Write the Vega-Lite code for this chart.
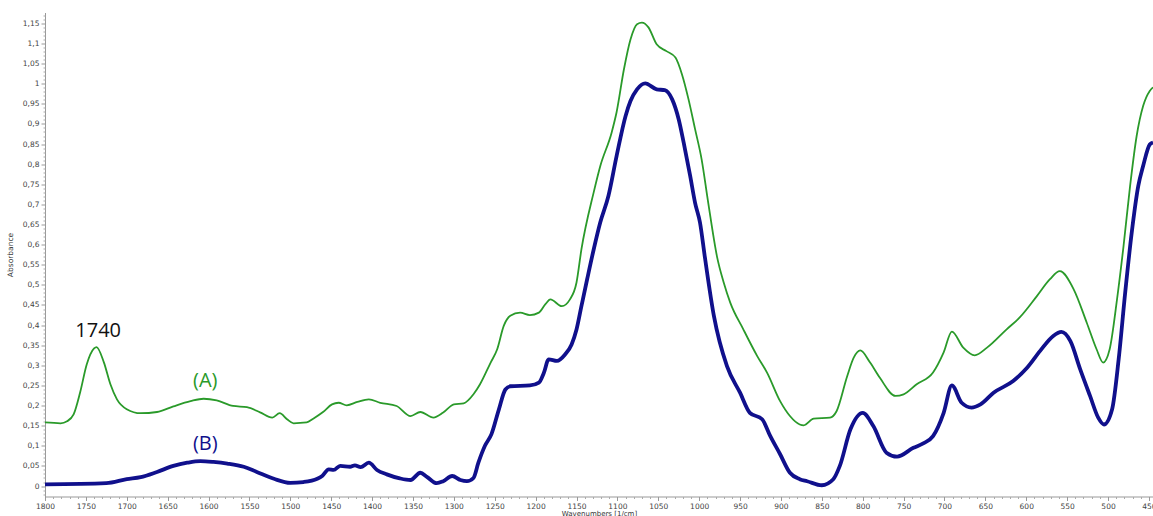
{
  "$schema": "https://vega.github.io/schema/vega-lite/v6.json",
  "width": 1108,
  "height": 484,
  "autosize": {"type": "none"},
  "padding": {"left": 45, "top": 12.5, "right": 0, "bottom": 19.5},
  "background": "white",
  "config": {"view": {"stroke": null}},
  "datasets": {
    "spectra": [
      {"series":"A","wavenumber":1800,"absorbance":0.158},{"series":"A","wavenumber":1781,"absorbance":0.156},{"series":"A","wavenumber":1773,"absorbance":0.161},{"series":"A","wavenumber":1765,"absorbance":0.178},{"series":"A","wavenumber":1757,"absorbance":0.233},{"series":"A","wavenumber":1749,"absorbance":0.302},{"series":"A","wavenumber":1740,"absorbance":0.342},{"series":"A","wavenumber":1737,"absorbance":0.3455},{"series":"A","wavenumber":1728,"absorbance":0.3075},{"series":"A","wavenumber":1720,"absorbance":0.253},{"series":"A","wavenumber":1712,"absorbance":0.2155},{"series":"A","wavenumber":1700,"absorbance":0.191},{"series":"A","wavenumber":1683,"absorbance":0.181},{"series":"A","wavenumber":1663,"absorbance":0.184},{"series":"A","wavenumber":1643,"absorbance":0.198},{"series":"A","wavenumber":1622,"absorbance":0.211},{"series":"A","wavenumber":1606,"absorbance":0.217},{"series":"A","wavenumber":1590,"absorbance":0.213},{"series":"A","wavenumber":1570,"absorbance":0.199},{"series":"A","wavenumber":1553,"absorbance":0.196},{"series":"A","wavenumber":1537,"absorbance":0.183},{"series":"A","wavenumber":1522,"absorbance":0.170},{"series":"A","wavenumber":1513,"absorbance":0.181},{"series":"A","wavenumber":1504,"absorbance":0.166},{"series":"A","wavenumber":1496,"absorbance":0.156},{"series":"A","wavenumber":1480,"absorbance":0.158},{"series":"A","wavenumber":1472,"absorbance":0.1675},{"series":"A","wavenumber":1460,"absorbance":0.184},{"series":"A","wavenumber":1449,"absorbance":0.203},{"series":"A","wavenumber":1441,"absorbance":0.207},{"series":"A","wavenumber":1431,"absorbance":0.2006},{"series":"A","wavenumber":1418,"absorbance":0.209},{"series":"A","wavenumber":1404,"absorbance":0.2155},{"series":"A","wavenumber":1390,"absorbance":0.207},{"series":"A","wavenumber":1370,"absorbance":0.199},{"series":"A","wavenumber":1353,"absorbance":0.174},{"series":"A","wavenumber":1341,"absorbance":0.184},{"series":"A","wavenumber":1325,"absorbance":0.170},{"series":"A","wavenumber":1313,"absorbance":0.1825},{"series":"A","wavenumber":1300,"absorbance":0.203},{"series":"A","wavenumber":1288,"absorbance":0.2055},{"series":"A","wavenumber":1276,"absorbance":0.228},{"series":"A","wavenumber":1268,"absorbance":0.253},{"series":"A","wavenumber":1255,"absorbance":0.307},{"series":"A","wavenumber":1247,"absorbance":0.340},{"series":"A","wavenumber":1239,"absorbance":0.398},{"series":"A","wavenumber":1231,"absorbance":0.423},{"series":"A","wavenumber":1219,"absorbance":0.431},{"series":"A","wavenumber":1207,"absorbance":0.425},{"series":"A","wavenumber":1196,"absorbance":0.431},{"series":"A","wavenumber":1188,"absorbance":0.452},{"series":"A","wavenumber":1182,"absorbance":0.464},{"series":"A","wavenumber":1168,"absorbance":0.447},{"series":"A","wavenumber":1158,"absorbance":0.464},{"series":"A","wavenumber":1150,"absorbance":0.506},{"series":"A","wavenumber":1144,"absorbance":0.588},{"series":"A","wavenumber":1129,"absorbance":0.730},{"series":"A","wavenumber":1121,"absorbance":0.795},{"series":"A","wavenumber":1107,"absorbance":0.879},{"series":"A","wavenumber":1101,"absorbance":0.929},{"series":"A","wavenumber":1092,"absorbance":1.036},{"series":"A","wavenumber":1084,"absorbance":1.110},{"series":"A","wavenumber":1076,"absorbance":1.148},{"series":"A","wavenumber":1070,"absorbance":1.152},{"series":"A","wavenumber":1062,"absorbance":1.140},{"series":"A","wavenumber":1052,"absorbance":1.098},{"series":"A","wavenumber":1040,"absorbance":1.081},{"series":"A","wavenumber":1029,"absorbance":1.065},{"series":"A","wavenumber":1021,"absorbance":1.023},{"series":"A","wavenumber":1013,"absorbance":0.961},{"series":"A","wavenumber":1005,"absorbance":0.887},{"series":"A","wavenumber":997,"absorbance":0.812},{"series":"A","wavenumber":989,"absorbance":0.705},{"series":"A","wavenumber":978,"absorbance":0.5685},{"series":"A","wavenumber":970,"absorbance":0.506},{"series":"A","wavenumber":962,"absorbance":0.456},{"series":"A","wavenumber":946,"absorbance":0.3895},{"series":"A","wavenumber":929,"absorbance":0.323},{"series":"A","wavenumber":917,"absorbance":0.282},{"series":"A","wavenumber":901,"absorbance":0.211},{"series":"A","wavenumber":889,"absorbance":0.174},{"series":"A","wavenumber":877,"absorbance":0.153},{"series":"A","wavenumber":872,"absorbance":0.151},{"series":"A","wavenumber":860,"absorbance":0.1675},{"series":"A","wavenumber":840,"absorbance":0.170},{"series":"A","wavenumber":832,"absorbance":0.186},{"series":"A","wavenumber":819,"absorbance":0.273},{"series":"A","wavenumber":811,"absorbance":0.319},{"series":"A","wavenumber":803,"absorbance":0.337},{"series":"A","wavenumber":791,"absorbance":0.307},{"series":"A","wavenumber":779,"absorbance":0.269},{"series":"A","wavenumber":760,"absorbance":0.224},{"series":"A","wavenumber":750,"absorbance":0.228},{"series":"A","wavenumber":734,"absorbance":0.253},{"series":"A","wavenumber":714,"absorbance":0.282},{"series":"A","wavenumber":701,"absorbance":0.332},{"series":"A","wavenumber":691,"absorbance":0.384},{"series":"A","wavenumber":677,"absorbance":0.344},{"series":"A","wavenumber":663,"absorbance":0.325},{"series":"A","wavenumber":648,"absorbance":0.344},{"series":"A","wavenumber":624,"absorbance":0.3895},{"series":"A","wavenumber":608,"absorbance":0.419},{"series":"A","wavenumber":587,"absorbance":0.472},{"series":"A","wavenumber":571,"absorbance":0.514},{"series":"A","wavenumber":559,"absorbance":0.534},{"series":"A","wavenumber":542,"absorbance":0.489},{"series":"A","wavenumber":526,"absorbance":0.406},{"series":"A","wavenumber":514,"absorbance":0.340},{"series":"A","wavenumber":506,"absorbance":0.307},{"series":"A","wavenumber":498,"absorbance":0.340},{"series":"A","wavenumber":489,"absorbance":0.464},{"series":"A","wavenumber":481,"absorbance":0.597},{"series":"A","wavenumber":473,"absorbance":0.746},{"series":"A","wavenumber":465,"absorbance":0.870},{"series":"A","wavenumber":457,"absorbance":0.945},{"series":"A","wavenumber":449,"absorbance":0.982},{"series":"A","wavenumber":445,"absorbance":0.991},
      {"series":"B","wavenumber":1800,"absorbance":0.004},{"series":"B","wavenumber":1725,"absorbance":0.007},{"series":"B","wavenumber":1700,"absorbance":0.017},{"series":"B","wavenumber":1683,"absorbance":0.022},{"series":"B","wavenumber":1663,"absorbance":0.035},{"series":"B","wavenumber":1643,"absorbance":0.050},{"series":"B","wavenumber":1626,"absorbance":0.058},{"series":"B","wavenumber":1610,"absorbance":0.062},{"series":"B","wavenumber":1594,"absorbance":0.060},{"series":"B","wavenumber":1577,"absorbance":0.056},{"series":"B","wavenumber":1557,"absorbance":0.048},{"series":"B","wavenumber":1541,"absorbance":0.035},{"series":"B","wavenumber":1520,"absorbance":0.018},{"series":"B","wavenumber":1500,"absorbance":0.008},{"series":"B","wavenumber":1484,"absorbance":0.010},{"series":"B","wavenumber":1467,"absorbance":0.018},{"series":"B","wavenumber":1461,"absorbance":0.025},{"series":"B","wavenumber":1453,"absorbance":0.0415},{"series":"B","wavenumber":1447,"absorbance":0.040},{"series":"B","wavenumber":1439,"absorbance":0.050},{"series":"B","wavenumber":1427,"absorbance":0.048},{"series":"B","wavenumber":1421,"absorbance":0.0515},{"series":"B","wavenumber":1414,"absorbance":0.047},{"series":"B","wavenumber":1404,"absorbance":0.058},{"series":"B","wavenumber":1394,"absorbance":0.040},{"series":"B","wavenumber":1382,"absorbance":0.029},{"series":"B","wavenumber":1366,"absorbance":0.019},{"series":"B","wavenumber":1353,"absorbance":0.015},{"series":"B","wavenumber":1341,"absorbance":0.033},{"series":"B","wavenumber":1333,"absorbance":0.023},{"series":"B","wavenumber":1321,"absorbance":0.007},{"series":"B","wavenumber":1313,"absorbance":0.012},{"series":"B","wavenumber":1302,"absorbance":0.025},{"series":"B","wavenumber":1292,"absorbance":0.015},{"series":"B","wavenumber":1284,"absorbance":0.012},{"series":"B","wavenumber":1276,"absorbance":0.020},{"series":"B","wavenumber":1270,"absorbance":0.058},{"series":"B","wavenumber":1262,"absorbance":0.100},{"series":"B","wavenumber":1254,"absorbance":0.129},{"series":"B","wavenumber":1245,"absorbance":0.190},{"series":"B","wavenumber":1237,"absorbance":0.240},{"series":"B","wavenumber":1231,"absorbance":0.248},{"series":"B","wavenumber":1207,"absorbance":0.250},{"series":"B","wavenumber":1196,"absorbance":0.257},{"series":"B","wavenumber":1190,"absorbance":0.281},{"series":"B","wavenumber":1184,"absorbance":0.315},{"series":"B","wavenumber":1174,"absorbance":0.311},{"series":"B","wavenumber":1164,"absorbance":0.327},{"series":"B","wavenumber":1156,"absorbance":0.352},{"series":"B","wavenumber":1150,"absorbance":0.389},{"series":"B","wavenumber":1144,"absorbance":0.447},{"series":"B","wavenumber":1137,"absorbance":0.514},{"series":"B","wavenumber":1129,"absorbance":0.588},{"series":"B","wavenumber":1121,"absorbance":0.655},{"series":"B","wavenumber":1111,"absorbance":0.721},{"series":"B","wavenumber":1101,"absorbance":0.820},{"series":"B","wavenumber":1090,"absorbance":0.920},{"series":"B","wavenumber":1084,"absorbance":0.957},{"series":"B","wavenumber":1076,"absorbance":0.986},{"series":"B","wavenumber":1066,"absorbance":1.001},{"series":"B","wavenumber":1052,"absorbance":0.986},{"series":"B","wavenumber":1042,"absorbance":0.984},{"series":"B","wavenumber":1033,"absorbance":0.961},{"series":"B","wavenumber":1025,"absorbance":0.911},{"series":"B","wavenumber":1019,"absorbance":0.854},{"series":"B","wavenumber":1011,"absorbance":0.771},{"series":"B","wavenumber":1005,"absorbance":0.704},{"series":"B","wavenumber":999,"absorbance":0.655},{"series":"B","wavenumber":993,"absorbance":0.5685},{"series":"B","wavenumber":982,"absorbance":0.423},{"series":"B","wavenumber":966,"absorbance":0.298},{"series":"B","wavenumber":950,"absorbance":0.232},{"series":"B","wavenumber":938,"absorbance":0.182},{"series":"B","wavenumber":923,"absorbance":0.166},{"series":"B","wavenumber":913,"absorbance":0.124},{"series":"B","wavenumber":901,"absorbance":0.079},{"series":"B","wavenumber":889,"absorbance":0.033},{"series":"B","wavenumber":877,"absorbance":0.017},{"series":"B","wavenumber":868,"absorbance":0.012},{"series":"B","wavenumber":850,"absorbance":0.002},{"series":"B","wavenumber":836,"absorbance":0.017},{"series":"B","wavenumber":828,"absorbance":0.050},{"series":"B","wavenumber":815,"absorbance":0.141},{"series":"B","wavenumber":800,"absorbance":0.182},{"series":"B","wavenumber":787,"absorbance":0.149},{"series":"B","wavenumber":771,"absorbance":0.083},{"series":"B","wavenumber":758,"absorbance":0.073},{"series":"B","wavenumber":738,"absorbance":0.095},{"series":"B","wavenumber":726,"absorbance":0.106},{"series":"B","wavenumber":714,"absorbance":0.124},{"series":"B","wavenumber":701,"absorbance":0.182},{"series":"B","wavenumber":691,"absorbance":0.250},{"series":"B","wavenumber":679,"absorbance":0.207},{"series":"B","wavenumber":667,"absorbance":0.195},{"series":"B","wavenumber":656,"absorbance":0.203},{"series":"B","wavenumber":640,"absorbance":0.232},{"series":"B","wavenumber":616,"absorbance":0.261},{"series":"B","wavenumber":599,"absorbance":0.294},{"series":"B","wavenumber":583,"absorbance":0.336},{"series":"B","wavenumber":567,"absorbance":0.373},{"series":"B","wavenumber":557,"absorbance":0.383},{"series":"B","wavenumber":546,"absorbance":0.360},{"series":"B","wavenumber":534,"absorbance":0.290},{"series":"B","wavenumber":522,"absorbance":0.224},{"series":"B","wavenumber":512,"absorbance":0.170},{"series":"B","wavenumber":505,"absorbance":0.153},{"series":"B","wavenumber":495,"absorbance":0.191},{"series":"B","wavenumber":487,"absorbance":0.315},{"series":"B","wavenumber":479,"absorbance":0.481},{"series":"B","wavenumber":471,"absorbance":0.630},{"series":"B","wavenumber":463,"absorbance":0.746},{"series":"B","wavenumber":457,"absorbance":0.796},{"series":"B","wavenumber":449,"absorbance":0.849},{"series":"B","wavenumber":445,"absorbance":0.854}
    ],
    "labels": [
      {"series":"peak","text":"1740","wavenumber":1735,"absorbance":0.385},
      {"series":"A","text":"(A)","wavenumber":1604,"absorbance":0.26},
      {"series":"B","text":"(B)","wavenumber":1604,"absorbance":0.104}
    ]
  },
  "resolve": {"axis": {"x": "independent", "y": "independent"}},
  "layer": [
    {
      "data": {"name": "spectra"},
      "transform": [{"filter": "datum.series === 'A'"}],
      "mark": {"type": "line", "interpolate": "monotone", "strokeWidth": 1.8, "clip": true},
      "encoding": {
        "x": {
          "field": "wavenumber", "type": "quantitative",
          "scale": {"domain": [1800, 445], "nice": false, "zero": false},
          "axis": {
            "orient": "bottom",
            "values": [1800,1750,1700,1650,1600,1550,1500,1450,1400,1350,1300,1250,1200,1150,1100,1050,1000,950,900,850,800,750,700,650,600,550,500,450],
            "labelExpr": "replace(format(datum.value, '.2~f'), '.', ',')",
            "title": "Wavenumbers [1/cm]",
            "titleFont": "DejaVu Sans", "titleFontSize": 7, "titleFontWeight": "normal", "titleColor": "#333",
            "titlePadding": 0,
            "labelFont": "DejaVu Sans", "labelFontSize": 7.5, "labelColor": "#444",
            "labelPadding": 1.5, "labelOverlap": false, "labelFlush": false,
            "tickSize": 4, "tickColor": "#999", "domainColor": "#999", "grid": false
          }
        },
        "y": {
          "field": "absorbance", "type": "quantitative",
          "scale": {"domain": [-0.026, 1.177], "nice": false, "zero": false},
          "axis": {
            "orient": "left",
            "values": [0,0.05,0.1,0.15,0.2,0.25,0.3,0.35,0.4,0.45,0.5,0.55,0.6,0.65,0.7,0.75,0.8,0.85,0.9,0.95,1,1.05,1.1,1.15],
            "labelExpr": "replace(format(datum.value, '.2~f'), '.', ',')",
            "title": "Absorbance",
            "titleFont": "DejaVu Sans", "titleFontSize": 7.5, "titleFontWeight": "normal", "titleColor": "#333",
            "titlePadding": 8,
            "labelFont": "DejaVu Sans", "labelFontSize": 7.5, "labelColor": "#444",
            "labelPadding": 2, "labelOverlap": false,
            "tickSize": 4, "tickColor": "#999", "domainColor": "#999", "grid": false
          }
        },
        "color": {
          "field": "series", "type": "nominal",
          "scale": {"domain": ["A", "B", "peak"], "range": ["#2a9a2a", "#10108c", "#111111"]},
          "legend": null
        }
      }
    },
    {
      "data": {"name": "spectra"},
      "transform": [{"filter": "datum.series === 'B'"}],
      "mark": {"type": "line", "interpolate": "monotone", "strokeWidth": 3.8, "clip": true},
      "encoding": {
        "x": {
          "field": "wavenumber", "type": "quantitative",
          "axis": {
            "orient": "bottom",
            "values": [1790,1780,1770,1760,1740,1730,1720,1710,1690,1680,1670,1660,1640,1630,1620,1610,1590,1580,1570,1560,1540,1530,1520,1510,1490,1480,1470,1460,1440,1430,1420,1410,1390,1380,1370,1360,1340,1330,1320,1310,1290,1280,1270,1260,1240,1230,1220,1210,1190,1180,1170,1160,1140,1130,1120,1110,1090,1080,1070,1060,1040,1030,1020,1010,990,980,970,960,940,930,920,910,890,880,870,860,840,830,820,810,790,780,770,760,740,730,720,710,690,680,670,660,640,630,620,610,590,580,570,560,540,530,520,510,490,480,470,460],
            "labels": false, "title": null, "domain": false, "grid": false,
            "tickSize": 2, "tickColor": "#aaa"
          }
        },
        "y": {
          "field": "absorbance", "type": "quantitative",
          "axis": {
            "orient": "left",
            "values": [0.01,0.02,0.03,0.04,0.06,0.07,0.08,0.09,0.11,0.12,0.13,0.14,0.16,0.17,0.18,0.19,0.21,0.22,0.23,0.24,0.26,0.27,0.28,0.29,0.31,0.32,0.33,0.34,0.36,0.37,0.38,0.39,0.41,0.42,0.43,0.44,0.46,0.47,0.48,0.49,0.51,0.52,0.53,0.54,0.56,0.57,0.58,0.59,0.61,0.62,0.63,0.64,0.66,0.67,0.68,0.69,0.71,0.72,0.73,0.74,0.76,0.77,0.78,0.79,0.81,0.82,0.83,0.84,0.86,0.87,0.88,0.89,0.91,0.92,0.93,0.94,0.96,0.97,0.98,0.99,1.01,1.02,1.03,1.04,1.06,1.07,1.08,1.09,1.11,1.12,1.13,1.14,1.16,1.17,-0.01,-0.02],
            "labels": false, "title": null, "domain": false, "grid": false,
            "tickSize": 2, "tickColor": "#aaa"
          }
        },
        "color": {"field": "series", "type": "nominal", "legend": null}
      }
    },
    {
      "data": {"name": "labels"},
      "mark": {"type": "text", "font": "Open Sans", "fontSize": 20, "align": "center", "baseline": "middle"},
      "encoding": {
        "x": {"field": "wavenumber", "type": "quantitative", "axis": null},
        "y": {"field": "absorbance", "type": "quantitative", "axis": null},
        "text": {"field": "text"},
        "color": {"field": "series", "type": "nominal", "legend": null}
      }
    }
  ]
}
